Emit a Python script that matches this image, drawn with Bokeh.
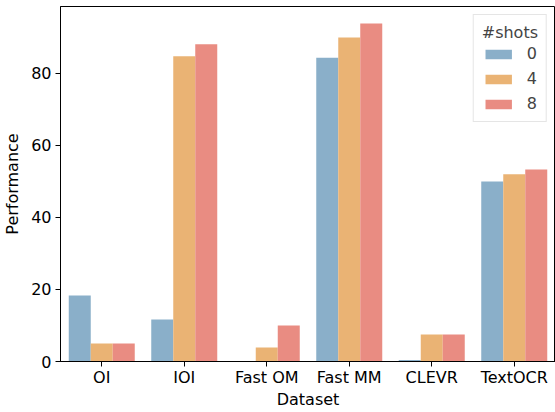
from bokeh.plotting import figure
from bokeh.models import ColumnDataSource, FactorRange, Range1d, Legend, LegendItem
from bokeh.transform import dodge
from bokeh.embed import file_html
from bokeh.resources import INLINE

datasets = ["OI", "IOI", "Fast OM", "Fast MM", "CLEVR", "TextOCR"]
shots_0 = [18.3, 11.7, 0.0, 84.4, 0.4, 50.0]
shots_4 = [5.0, 84.8, 3.9, 90.0, 7.5, 52.0]
shots_8 = [5.0, 88.1, 10.0, 93.9, 7.5, 53.3]
shot_labels = ["0", "4", "8"]
colors = ["#8AAFC9", "#EAB374", "#E98C82"]

src = ColumnDataSource(dict(ds=datasets, s0=shots_0, s4=shots_4, s8=shots_8))

FONT = "DejaVu Sans"
p = figure(width=555, height=412, output_backend="svg", toolbar_location=None,
           x_range=FactorRange(*datasets, range_padding=0.0), y_range=Range1d(0, 98.6),
           min_border_left=59, min_border_right=0, min_border_top=6, min_border_bottom=51)

bw = 0.8 / 3
renderers = []
for i, (col, c) in enumerate(zip(["s0", "s4", "s8"], colors)):
    r = p.vbar(x=dodge("ds", (i - 1) * bw, range=p.x_range), top=col, width=bw,
               source=src, fill_color=c, line_color=None)
    renderers.append(r)

p.xgrid.visible = False
p.ygrid.visible = False
p.outline_line_color = "black"
p.outline_line_width = 1
p.background_fill_color = "white"
p.border_fill_color = "white"

for ax in (p.xaxis[0], p.yaxis[0]):
    ax.axis_line_color = "black"
    ax.major_tick_line_color = "black"
    ax.major_tick_out = 5
    ax.major_tick_in = 0
    ax.minor_tick_line_color = None
    ax.major_label_text_font = FONT
    ax.major_label_text_font_size = "16px"
    ax.major_label_text_color = "black"
    ax.axis_label_text_font = FONT
    ax.axis_label_text_font_size = "16px"
    ax.axis_label_text_font_style = "normal"
    ax.axis_label_text_color = "black"

p.xaxis.axis_label = "Dataset"
p.yaxis.axis_label = "Performance"
p.yaxis.ticker = [0, 20, 40, 60, 80]
p.xaxis.major_label_standoff = 1
p.xaxis.axis_label_standoff = 0
p.yaxis.major_label_standoff = 4
p.yaxis.axis_label_standoff = 6
p.xaxis.group_text_font_size = "0px"

legend = Legend(items=[LegendItem(label=l, renderers=[r]) for l, r in zip(shot_labels, renderers)],
                location="top_right", title="#shots")
legend.title_text_font = FONT
legend.title_text_font_size = "16px"
legend.title_text_font_style = "normal"
legend.title_standoff = 2
legend.label_text_font = FONT
legend.label_text_font_size = "16px"
legend.glyph_width = 33
legend.glyph_height = 12
legend.label_height = 18
legend.label_width = 10
legend.spacing = 6
legend.label_standoff = 12
legend.padding = 8
legend.margin = 8
legend.border_line_color = "#cccccc"
legend.border_line_width = 1
legend.background_fill_alpha = 0.8
p.add_layout(legend)

open("out.html", "w").write(file_html(p, INLINE))
